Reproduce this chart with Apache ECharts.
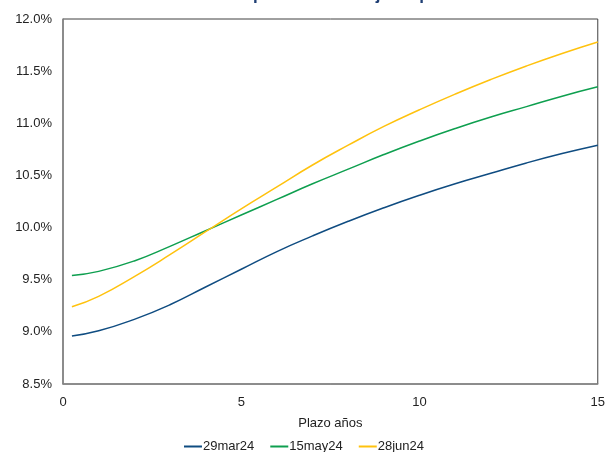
<!DOCTYPE html>
<html><head><meta charset="utf-8">
<script src="https://cdn.jsdelivr.net/npm/echarts@6/dist/echarts.min.js"></script>
<style>html,body{margin:0;padding:0;background:#fff}#c{width:608px;height:452px}</style>
</head><body><div id="c"></div>
<script>
const titleText = "Curva cero cupón TES tasa fija en pesos";
const plazo = [0.25, 1, 2, 3, 4, 5, 6, 7, 8, 9, 10, 11, 12, 13, 14, 15];
const s29mar24 = [8.96, 9.01, 9.12, 9.26, 9.43, 9.60, 9.77, 9.92, 10.06, 10.19, 10.31, 10.42, 10.52, 10.62, 10.71, 10.79];
const s15may24 = [9.54, 9.58, 9.68, 9.82, 9.97, 10.12, 10.27, 10.42, 10.56, 10.70, 10.83, 10.95, 11.06, 11.16, 11.26, 11.35];
const s28jun24 = [9.24, 9.34, 9.53, 9.74, 9.96, 10.18, 10.39, 10.60, 10.79, 10.97, 11.13, 11.28, 11.42, 11.55, 11.67, 11.78];
const seriesNames = ["29mar24", "15may24", "28jun24"];
const colors = ["#0f4c81", "#0e9f4f", "#ffc20e"];
const xTicks = [0, 15, 5];
const yTicks = [8.5, 12, 0.5];

const chart = echarts.init(document.getElementById('c'), null, {renderer: 'canvas'});
const font = '"Liberation Sans", Arial, sans-serif';
const mk = (name, vals, color) => ({
  name, type: 'line', smooth: true, showSymbol: false, symbol: 'none',
  data: plazo.map((x, i) => [x, vals[i]]),
  lineStyle: {color, width: 1.5}, itemStyle: {color}
});
chart.setOption({
  animation: false,
  title: {text: titleText, left: 'center', top: -18,
    textStyle: {color: '#1f3f74', fontSize: 17, fontWeight: 'bold', fontFamily: font}},
  grid: {left: 63, right: 6, top: 19, bottom: 68, show: true, borderColor: '#404040', borderWidth: 1},
  legend: {bottom: -6, left: 'center', icon: 'rect', itemWidth: 18, itemHeight: 2, itemGap: 16,
    textStyle: {fontSize: 13, color: '#222', fontFamily: font, padding: [0,0,0,-4]},
    data: seriesNames},
  xAxis: {type: 'value', min: xTicks[0], max: xTicks[1], interval: xTicks[2],
    name: 'Plazo años', nameLocation: 'middle', nameGap: 33,
    nameTextStyle: {fontSize: 13, color: '#222', fontFamily: font},
    axisLine: {show: true, lineStyle: {color: '#868686', width: 1.5}},
    axisTick: {show: false}, splitLine: {show: false},
    axisLabel: {fontSize: 13, color: '#222', fontFamily: font, margin: 12}},
  yAxis: {type: 'value', min: yTicks[0], max: yTicks[1], interval: yTicks[2],
    axisLine: {show: true, lineStyle: {color: '#868686', width: 1.5}},
    axisTick: {show: false}, splitLine: {show: false},
    axisLabel: {fontSize: 13, color: '#222', fontFamily: font, margin: 11,
      formatter: v => v.toFixed(1) + '%'}},
  series: [mk(seriesNames[0], s29mar24, colors[0]), mk(seriesNames[1], s15may24, colors[1]), mk(seriesNames[2], s28jun24, colors[2])]
});
</script></body></html>
